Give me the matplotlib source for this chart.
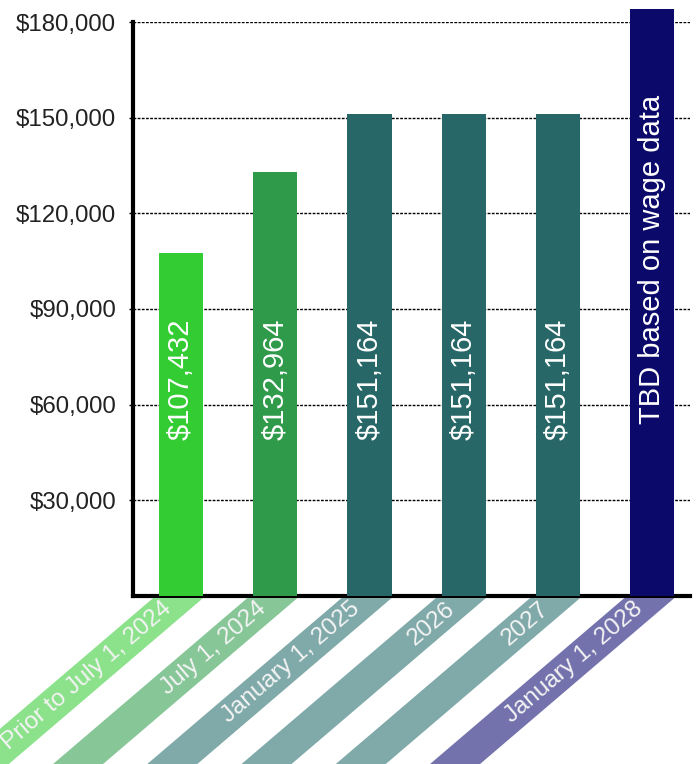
import numpy as np
import matplotlib.pyplot as plt
from matplotlib.patches import Polygon
from matplotlib.transforms import IdentityTransform

plt.rcParams['font.family'] = ['Liberation Sans', 'DejaVu Sans']

# chart data
categories = ['Prior to July 1, 2024', 'July 1, 2024', 'January 1, 2025',
              '2026', '2027', 'January 1, 2028']
salaries = [107432, 132964, 151164, 151164, 151164, 184000]  # last one is TBD, drawn full height
bar_labels = ['$107,432', '$132,964', '$151,164', '$151,164', '$151,164',
              'TBD based on wage data']
bar_colors = ['#33cc33', '#2e9a4a', '#276767', '#276767', '#276767', '#0b0a6b']
band_colors = ['#8be28b', '#86c697', '#80a9a9', '#80a9a9', '#80a9a9', '#7472ad']
yticks = [30000, 60000, 90000, 120000, 150000, 180000]

fig = plt.figure(figsize=(6.98, 7.64), dpi=100)
ax = fig.add_axes([0.1905, 0.2199, 0.798, 0.7513])

x = np.arange(len(categories))
bar_w = 0.47
bars = ax.bar(x, salaries, width=bar_w, color=bar_colors, zorder=3)
bars[-1].set_clip_on(False)

ax.set_xlim(-0.51, 5.40)
ax.set_ylim(0, 180000)
ax.set_yticks(yticks)
ax.set_yticklabels(['${:,.0f}'.format(v) for v in yticks], fontsize=17.3, color='#222222')
ax.set_xticks([])
ax.tick_params(axis='y', length=3, width=1, pad=9)
ax.grid(axis='y', color='black', linestyle=(0, (2, 1)), linewidth=1, zorder=1)

for s in ['top', 'right']:
    ax.spines[s].set_visible(False)
for s in ['left', 'bottom']:
    ax.spines[s].set_linewidth(3)
    ax.spines[s].set_capstyle('projecting')

# value text inside bars
for i, lab in enumerate(bar_labels):
    ypos = 105500 if i == len(bar_labels) - 1 else 68000
    ax.text(x[i], ypos, lab, rotation=90, ha='center', va='center',
            color='white', fontsize=21, zorder=4)

# slanted category bands below the axis (drawn in pixel space)
angle = 40.5
run = 1 / np.tan(np.radians(angle))
band_w = 50
fig.canvas.draw()
for i, cat in enumerate(categories):
    right, top = ax.transData.transform((x[i] + bar_w / 2, 0))
    top = top - 2
    drop = top + 60
    verts = [(right - band_w, top), (right, top),
             (right - drop * run, top - drop), (right - band_w - drop * run, top - drop)]
    fig.add_artist(Polygon(verts, closed=True, facecolor=band_colors[i],
                           edgecolor='none', transform=IdentityTransform()))
    d = 8
    cx = right - band_w / 2 - d * run
    cy = top - d
    fig.text(cx, cy, cat, transform=IdentityTransform(), rotation=angle,
             rotation_mode='anchor', ha='right', va='center',
             color='#f4f4f4', fontsize=17.5)

fig.savefig('out.png', dpi=100)
